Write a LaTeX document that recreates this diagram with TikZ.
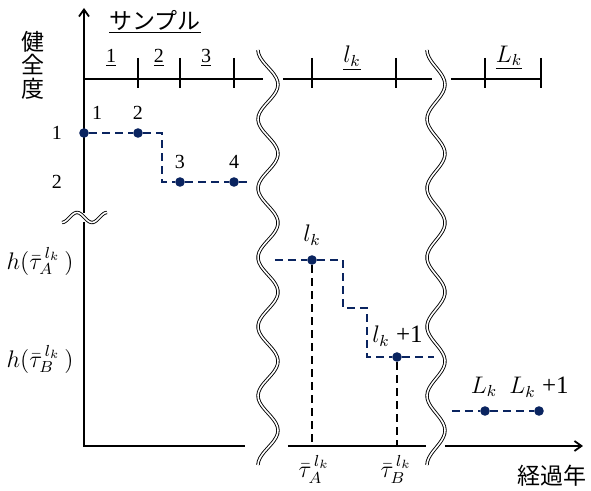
\documentclass[tikz,border=0pt]{standalone}
\usepackage{fontspec}
\setmainfont{Liberation Serif}
\newfontfamily\cjk{Noto Sans CJK JP}
\usetikzlibrary{arrows.meta}
\definecolor{dotcol}{RGB}{10,36,96}
\tikzset{
  axisln/.style={line width=0.9pt},
  tickln/.style={line width=0.7pt},
  wavy/.style={draw=black,line width=0.45pt,double=white,double distance=0.8pt},
  stepln/.style={draw=dotcol,line width=0.8pt,dash pattern=on 4pt off 2.5pt},
  dropln/.style={draw=black,line width=0.7pt,dash pattern=on 4pt off 2.5pt},
  dot/.style={circle,fill=dotcol,inner sep=0pt,minimum size=4.8pt},
  lab/.style={font=\fontsize{10}{12}\selectfont,inner sep=1pt},
  mlab/.style={font=\fontsize{11.5}{13}\selectfont,inner sep=1pt},
  jlab/.style={font=\cjk\fontsize{11.5}{11.7}\selectfont,inner sep=1pt},
  tip/.style={-{Straight Barb[length=3.5pt,width=5pt]}},
}

\begin{document}
\begin{tikzpicture}[x=0.5pt,y=-0.5pt]
  \useasboundingbox (0,0) rectangle (591,491);
  % axes
  \draw[axisln,tip] (84,213) -- (84,8);
  \draw[axisln] (84,222) -- (84,446) -- (245,446);
  \draw[axisln] (288,446) -- (426,446);
  \draw[axisln,tip] (445,446) -- (583,446);
  \node[jlab,align=center] (ylab) at (33,65) {健\\全\\度};
  \node[jlab] (xlab) at (552,476) {経過年};
  % sample axis
  \node[jlab] (smp) at (155,22) {\underline{サンプル}};
  \draw[axisln] (84,79) -- (263,79);
  \draw[axisln] (283,79) -- (432,79);
  \draw[axisln] (451,79) -- (541,79);
  \draw[tickln] (138,58) -- (138,88);
  \draw[tickln] (180,58) -- (180,88);
  \draw[tickln] (234,58) -- (234,88);
  \draw[tickln] (312,58) -- (312,88);
  \draw[tickln] (396,58) -- (396,88);
  \draw[tickln] (485,58) -- (485,88);
  \draw[tickln] (541,58) -- (541,88);
  \node[lab] (s1) at (111,58) {\underline{1}};
  \node[lab] (s2) at (159,58) {\underline{2}};
  \node[lab] (s3) at (206,58) {\underline{3}};
  \node[mlab] (slk) at (352,58) {$\underline{l_k}$};
  \node[mlab] (sLk) at (509,58) {$\underline{L_k}$};
  % breaks
  \draw[wavy] plot[domain=50:465,samples=120,smooth] ({268-10*cos((\x-50)*5.2046)},\x);
  \draw[wavy] plot[domain=50:465,samples=120,smooth] ({436-9*cos((\x-50)*5.2046)},\x);
  \draw[wavy] plot[domain=62:107,samples=30,smooth] (\x,{217.5+5*cos((\x-62)*12)});
  % health levels
  \node[lab] (h1) at (57,133) {1};
  \node[lab] (h2) at (57,182) {2};
  \node[mlab] (hA) at (40,261) {$h(\bar{\tau}_A^{\,l_k}\,)$};
  \node[mlab] (hB) at (40,359) {$h(\bar{\tau}_B^{\,l_k}\,)$};
  % first block
  \node[dot] (p1) at (84,133) {};
  \node[dot] (p2) at (138,133) {};
  \node[dot] (p3) at (180,182) {};
  \node[dot] (p4) at (234,182) {};
  \coordinate (e1) at (249,182);
  \draw[stepln] (p1) -- (p2) -- (162,133) -- (162,182) -- (p3) -- (p4) -- (e1);
  \node[lab] at (97,113) {1};
  \node[lab] at (138,113) {2};
  \node[lab] at (180,162) {3};
  \node[lab] at (234,162) {4};
  % second block
  \node[dot] (plk) at (312,260) {};
  \node[dot] (plkb) at (397,357) {};
  \coordinate (b2) at (275,260);
  \coordinate (e2) at (434,357);
  \coordinate (tA) at (312,446);
  \coordinate (tB) at (397,446);
  \draw[stepln] (b2) -- (plk) -- (343,260) -- (343,308) -- (367,308) -- (367,357) -- (plkb) -- (e2);
  \draw[dropln] (plk) -- (tA);
  \draw[dropln] (plkb) -- (tB);
  \node[mlab] at (312,235) {$l_k$};
  \node[mlab,anchor=west] at (370,336) {$l_k$\;{\fontsize{12.5}{13}\selectfont +1}};
  \node[mlab] (lA) at (314,469) {$\bar{\tau}_A^{\,l_k}$};
  \node[mlab] (lB) at (396,469) {$\bar{\tau}_B^{\,l_k}$};
  % third block
  \node[dot] (pLk) at (485,411) {};
  \node[dot] (pLkb) at (539,411) {};
  \coordinate (b3) at (452,411);
  \draw[stepln] (b3) -- (pLk) -- (pLkb);
  \node[mlab] at (484,387) {$L_k$};
  \node[mlab,anchor=west] at (507,387) {$L_k$\;{\fontsize{12.5}{13}\selectfont +1}};
\end{tikzpicture}
\end{document}
